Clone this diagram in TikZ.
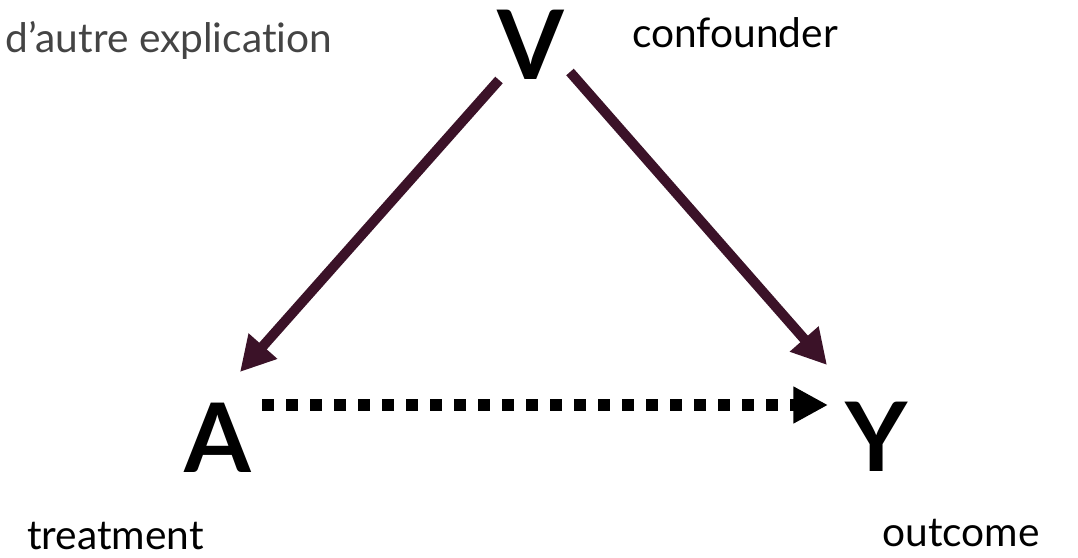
\documentclass[tikz,border=0pt]{standalone}
\usepackage{fontspec}
\setmainfont{Lato}[Ligatures=NoCommon]
\usetikzlibrary{arrows.meta}
\definecolor{causec}{HTML}{3B1228}
\definecolor{notec}{HTML}{444444}

\begin{document}
\begin{tikzpicture}[x=0.75pt, y=-0.75pt,
  var/.style={inner sep=0pt, font=\fontsize{72}{72}\selectfont\bfseries},
  lbl/.style={inner sep=0pt, anchor=base west, text depth=0pt,
    font=\fontsize{30.5}{30.5}\selectfont},
  causearr/.style={draw=causec, line width=7.5pt, -{Triangle[length=26pt, width=27pt]}},
  effectarr/.style={draw=black, line width=9pt, dash pattern=on 9pt off 9pt,
    -{Triangle[length=26pt, width=26pt]}}
]
  \useasboundingbox (0,0) rectangle (1078,557);

  % variables
  \node[var] (V) at (531,45) {V};
  \node[var] (A) at (218,438) {A};
  \node[var] (Y) at (877,437) {Y};

  % labels
  \node[lbl, text=notec] (note) at (5,52) {d’autre explication};
  \node[lbl] (conf) at (632,47) {confounder};
  \node[lbl] (treat) at (27,549) {treatment};
  \node[lbl] (out) at (882,546) {outcome};

  % arrows
  \draw[causearr] ([shift={(-32,35)}]V.center) -- ([shift={(22,-66)}]A.center);
  \draw[causearr] ([shift={(39,27)}]V.center) -- ([shift={(-50,-72)}]Y.center);
  \draw[effectarr] ([shift={(44,-33)}]A.center) -- ([shift={(-49,-32)}]Y.center);
\end{tikzpicture}
\end{document}
